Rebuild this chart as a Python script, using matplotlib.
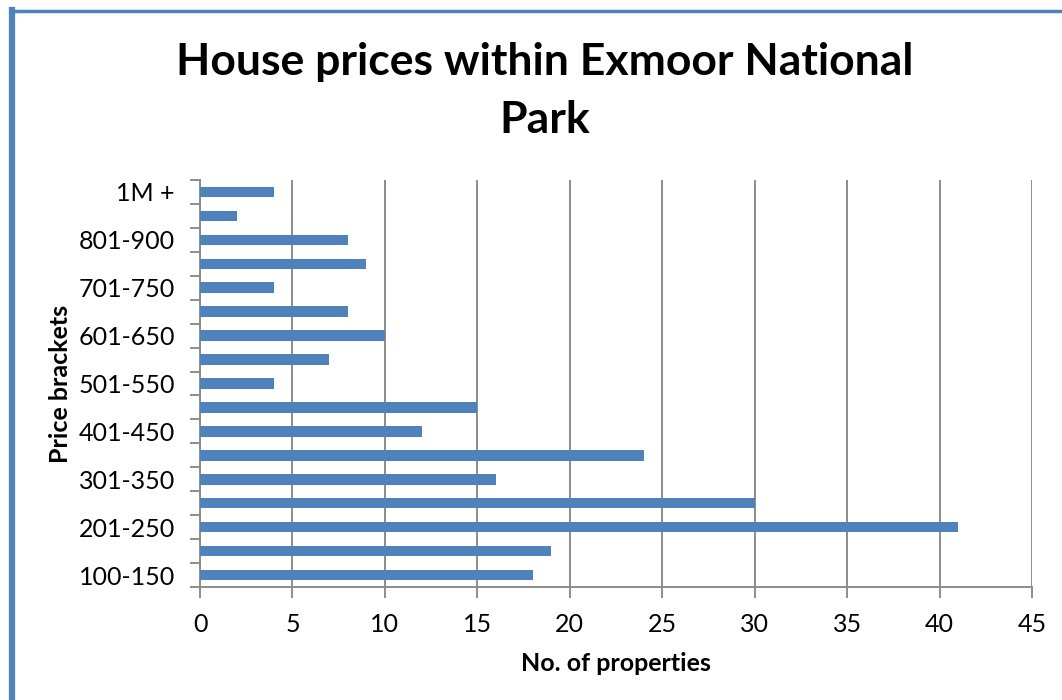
import matplotlib.pyplot as plt
from matplotlib.lines import Line2D
from matplotlib.ticker import FixedLocator, MultipleLocator

# Price brackets (in £000s), bottom to top, and number of properties in each
brackets = ['100-150', '151-200', '201-250', '251-300', '301-350', '351-400',
            '401-450', '451-500', '501-550', '551-600', '601-650', '651-700',
            '701-750', '751-800', '801-900', '901-1M', '1M +']
counts = [18, 19, 41, 30, 16, 24, 12, 15, 4, 7, 10, 8, 4, 9, 8, 2, 4]

BAR_COLOUR = '#4F81BD'
GRID_COLOUR = '#8C8C8C'
FONT = 'Lato'

fig = plt.figure(figsize=(10.62, 7.0), dpi=100)
ax = fig.add_axes([200 / 1062, 1 - 587 / 700, 832 / 1062, 407 / 700])

positions = list(range(len(brackets)))
ax.barh(positions, counts, height=0.44, color=BAR_COLOUR, zorder=3)

ax.set_xlim(0, 45)
ax.set_ylim(-0.5, len(brackets) - 0.5)
ax.xaxis.set_major_locator(MultipleLocator(5))
ax.grid(axis='x', color=GRID_COLOUR, linewidth=1.4, zorder=0)

# labels only on every other bracket, tick marks on the category boundaries
ax.yaxis.set_major_locator(FixedLocator(positions[::2]))
ax.set_yticklabels(brackets[::2], fontsize=18, family=FONT)
ax.yaxis.set_minor_locator(FixedLocator([p - 0.5 for p in positions] + [len(brackets) - 0.5]))
ax.tick_params(axis='y', which='major', length=0, pad=18)
ax.tick_params(axis='y', which='minor', length=7, width=1.4, color=GRID_COLOUR)
ax.tick_params(axis='x', length=8, width=1.4, color=GRID_COLOUR, pad=11, labelsize=18)
for lbl in ax.get_xticklabels():
    lbl.set_family(FONT)

for side in ['top', 'right']:
    ax.spines[side].set_visible(False)
for side in ['left', 'bottom']:
    ax.spines[side].set_color(GRID_COLOUR)
    ax.spines[side].set_linewidth(1.4)

ax.set_xlabel('No. of properties', fontsize=18, fontweight='bold', family=FONT, labelpad=11)
ax.set_ylabel('Price brackets', fontsize=18, fontweight='bold', family=FONT, labelpad=5)

fig.text(0.513, 1 - 91 / 700, 'House prices within Exmoor National\nPark', ha='center', va='center',
         fontsize=32, fontweight='bold', family=FONT, linespacing=1.55)

# blue frame along the top and left edges
fig.add_artist(Line2D([12 / 1062, 1], [1 - 11 / 700, 1 - 11 / 700], color=BAR_COLOUR,
                      linewidth=2.5, transform=fig.transFigure))
fig.add_artist(Line2D([12 / 1062, 12 / 1062], [0, 1 - 10 / 700], color=BAR_COLOUR,
                      linewidth=4.5, transform=fig.transFigure))

fig.savefig('out.png', dpi=100)
